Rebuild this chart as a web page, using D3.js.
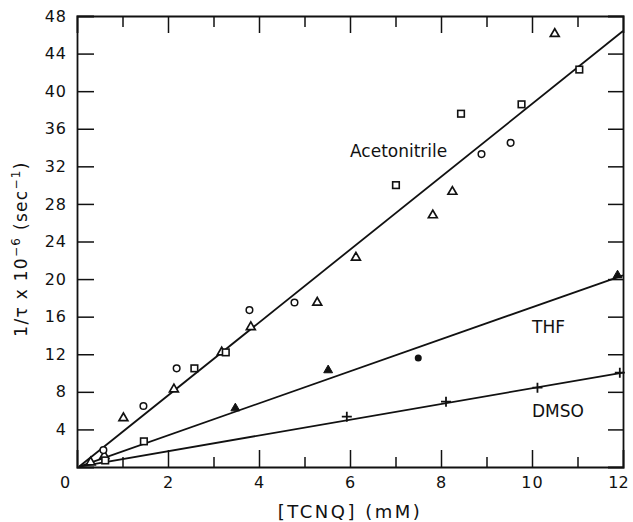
<!DOCTYPE html>
<html>
<head>
<meta charset="utf-8">
<script src="https://cdn.jsdelivr.net/npm/d3@7"></script>
<style>
  html, body { margin: 0; padding: 0; background: #fff; }
  svg { display: block; }
  text { font-family: "DejaVu Sans", sans-serif; fill: #111; }
</style>
</head>
<body>
<svg id="chart" width="633" height="522"></svg>
<script>
// ---------- data ----------
const xMajorTicks = [0, 2, 4, 6, 8, 10, 12];
const xMinorTicks = [1, 3, 5, 7, 9, 11];
const yTicks = [4, 8, 12, 16, 20, 24, 28, 32, 36, 40, 44, 48];

// fitted lines [x0, y0, x1, y1]
const lineNames = ["Acetonitrile", "THF", "DMSO"];
const lineEnds = [
  [0.05, 0.05, 12, 46.4],
  [0.05, 0.05, 12, 20.4],
  [0.05, 0.05, 12, 10.05]
];
const lineLabelPos = [[6.0, 33.0], [10.0, 14.3], [10.0, 5.3]]; // label anchor (data units)

// markers
const openCircles = [[0.58, 1.8], [1.46, 6.5], [2.19, 10.5], [3.79, 16.7], [4.78, 17.5], [8.89, 33.3], [9.53, 34.5]];
const openSquares = [[0.62, 0.7], [1.47, 2.73], [2.58, 10.5], [3.27, 12.2], [7.01, 30.0], [8.44, 37.6], [9.77, 38.6], [11.04, 42.3]];
const openTriangles = [[0.3, 0.5], [0.6, 1.2], [1.02, 5.2], [2.13, 8.27], [3.18, 12.2], [3.82, 14.9], [5.28, 17.5], [6.13, 22.3], [7.82, 26.8], [8.25, 29.3], [10.5, 46.1]];
const filledTriangles = [[3.48, 6.25], [5.52, 10.3], [11.88, 20.4]];
const filledCircles = [[7.5, 11.6]];
const pluses = [[5.93, 5.36], [8.11, 6.95], [10.12, 8.44], [11.93, 10.04]];

// ---------- drawing ----------
const svg = d3.select("#chart");
const x = d3.scaleLinear().domain([0, 12]).range([77, 623]);
const y = d3.scaleLinear().domain([0, 48]).range([467, 16]);
const ink = "#111";

function styleAxis(g) {
  g.selectAll("path").attr("stroke", ink).attr("stroke-width", 1.8);
  g.selectAll("line").attr("stroke", ink).attr("stroke-width", 1.5);
  g.selectAll("text").attr("font-family", "DejaVu Sans, sans-serif")
    .attr("font-size", 16).attr("fill", ink).style("letter-spacing", "1px");
}

// bottom axis major (labelled)
const gB = svg.append("g").attr("transform", `translate(0,${y(0)})`)
  .call(d3.axisBottom(x).tickValues(xMajorTicks).tickSize(-17).tickPadding(10).tickFormat(d3.format("d")));
styleAxis(gB);
gB.selectAll(".tick text").filter(d => d === 0).attr("dx", "-12");
gB.selectAll(".tick text").filter(d => d === 12).attr("dx", "-5").style("letter-spacing", "0px");
gB.selectAll(".tick").filter(d => d === 0 || d === 12).select("line").remove();
// bottom minor
const gBm = svg.append("g").attr("transform", `translate(0,${y(0)})`)
  .call(d3.axisBottom(x).tickValues(xMinorTicks).tickSize(-10).tickFormat(""));
styleAxis(gBm);
gBm.select("path").remove();

// top axis
const gT = svg.append("g").attr("transform", `translate(0,${y(48)})`)
  .call(d3.axisTop(x).tickValues(xMajorTicks.filter(d => d > 0 && d < 12)).tickSize(-17).tickFormat(""));
styleAxis(gT);
const gTm = svg.append("g").attr("transform", `translate(0,${y(48)})`)
  .call(d3.axisTop(x).tickValues(xMinorTicks).tickSize(-11).tickFormat(""));
styleAxis(gTm);
gTm.select("path").remove();

// left axis
const gL = svg.append("g").attr("transform", `translate(${x(0)},0)`)
  .call(d3.axisLeft(y).tickValues(yTicks).tickSize(-17).tickPadding(10).tickFormat(d3.format("d")));
styleAxis(gL);
gL.selectAll(".tick").filter(d => d === 48).select("line").remove();

// right axis
const gR = svg.append("g").attr("transform", `translate(${x(12)},0)`)
  .call(d3.axisRight(y).tickValues(yTicks.filter(d => d < 48)).tickSize(-15).tickFormat(""));
styleAxis(gR);

// fitted lines
svg.append("g").selectAll("line").data(lineEnds).join("line")
  .attr("x1", d => x(d[0])).attr("y1", d => y(d[1]))
  .attr("x2", d => x(d[2])).attr("y2", d => y(d[3]))
  .attr("stroke", ink).attr("stroke-width", 1.8);

// line labels
svg.append("g").selectAll("text").data(lineNames).join("text")
  .attr("x", (d, i) => x(lineLabelPos[i][0]))
  .attr("y", (d, i) => y(lineLabelPos[i][1]))
  .attr("font-size", 17)
  .text(d => d);

// markers
const mk = svg.append("g");
const tri = d3.symbol().type(d3.symbolTriangle).size(34);
mk.selectAll(".ot").data(openTriangles).join("path")
  .attr("transform", d => `translate(${x(d[0])},${y(d[1])})`)
  .attr("d", tri).attr("fill", "#fff").attr("stroke", ink).attr("stroke-width", 1.7);
mk.selectAll(".ft").data(filledTriangles).join("path")
  .attr("transform", d => `translate(${x(d[0])},${y(d[1])})`)
  .attr("d", tri).attr("fill", ink).attr("stroke", ink).attr("stroke-width", 1);
mk.selectAll(".oc").data(openCircles).join("circle")
  .attr("cx", d => x(d[0])).attr("cy", d => y(d[1])).attr("r", 3.3)
  .attr("fill", "#fff").attr("stroke", ink).attr("stroke-width", 1.5);
mk.selectAll(".fc").data(filledCircles).join("circle")
  .attr("cx", d => x(d[0])).attr("cy", d => y(d[1])).attr("r", 3.5)
  .attr("fill", ink);
mk.selectAll(".os").data(openSquares).join("rect")
  .attr("x", d => x(d[0]) - 3.3).attr("y", d => y(d[1]) - 3.3)
  .attr("width", 6.6).attr("height", 6.6)
  .attr("fill", "#fff").attr("stroke", ink).attr("stroke-width", 1.6);
mk.selectAll(".pl").data(pluses).join("path")
  .attr("transform", d => `translate(${x(d[0])},${y(d[1])})`)
  .attr("d", "M-5,0H5M0,-5V5")
  .attr("stroke", ink).attr("stroke-width", 1.8);

// axis titles
svg.append("text")
  .attr("x", (x(0) + x(12)) / 2).attr("y", 518)
  .attr("text-anchor", "middle")
  .attr("font-size", 18)
  .style("letter-spacing", "2.5px")
  .text("[TCNQ] (mM)");

const yt = svg.append("text")
  .attr("transform", "translate(27,249) rotate(-90)")
  .attr("text-anchor", "middle")
  .attr("font-size", 17)
  .style("letter-spacing", "1.3px");
yt.append("tspan").text("1/τ x 10");
yt.append("tspan").attr("dy", -7).attr("font-size", 12).text("−6");
yt.append("tspan").attr("dy", 7).text(" (sec");
yt.append("tspan").attr("dy", -7).attr("font-size", 12).text("−1");
yt.append("tspan").attr("dy", 7).text(")");
</script>
</body>
</html>
